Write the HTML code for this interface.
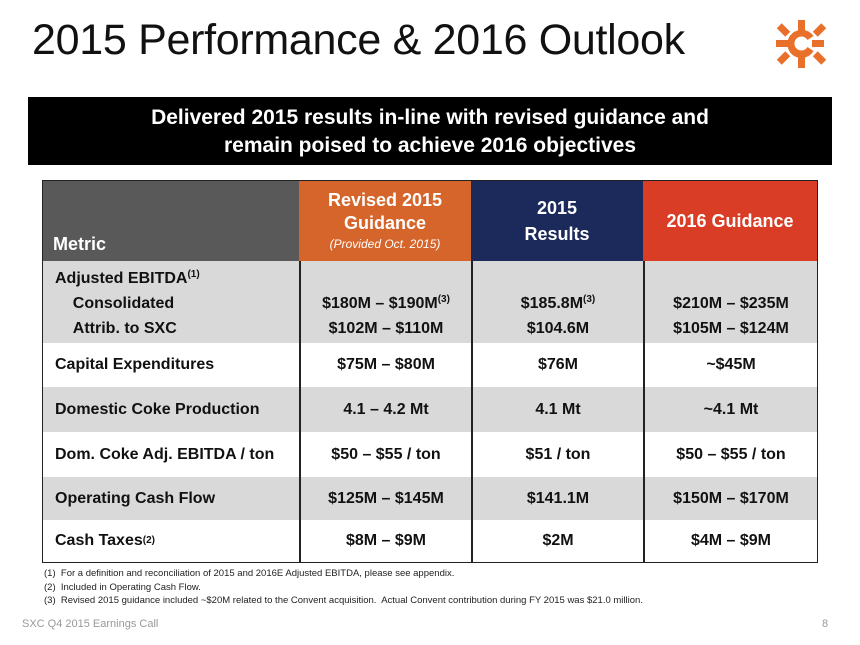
<!DOCTYPE html>
<html><head><meta charset="utf-8"><style>
*{margin:0;padding:0;box-sizing:border-box}
body{width:860px;height:645px;background:#fff;position:relative;overflow:hidden;font-family:"Liberation Sans",sans-serif;color:#111}
.a{position:absolute}
.cell{position:absolute;display:flex;align-items:center;justify-content:center;font-weight:bold;font-size:16px;text-align:center}
.lab{justify-content:flex-start;padding-left:12px}
.blk{display:block;padding-top:5px;line-height:25px}
sup{font-size:10px;vertical-align:6px;line-height:0}
</style></head><body>
<div class="a" style="left:32px;top:16px;font-size:43px;letter-spacing:-0.3px;color:#111">2015 Performance &amp; 2016 Outlook</div>
<svg class="a" style="left:772px;top:18px" width="60" height="52" viewBox="0 0 60 52">
<g fill="#e8702a">
<rect x="26" y="2" width="7" height="12"/><rect x="26" y="38" width="7" height="12"/>
<rect x="4" y="22" width="12" height="7"/>
<rect x="8" y="6" width="7" height="12" transform="rotate(-45 11.5 12)"/>
<rect x="8" y="34" width="7" height="12" transform="rotate(45 11.5 40)"/>
<rect x="44" y="6" width="7" height="12" transform="rotate(45 47.5 12)"/>
<rect x="44" y="34" width="7" height="12" transform="rotate(-45 47.5 40)"/>
<path d="M29.5 12a14 14 0 1 0 12 21l-6-4a7 7 0 1 1 0-7l6-4a14 14 0 0 0-12-6z"/>
<rect x="40" y="22" width="12" height="7"/>
</g></svg>
<div class="a" style="left:28px;top:97px;width:804px;height:68px;background:#000;color:#fff;font-weight:bold;font-size:21px;text-align:center;line-height:28px;padding-top:7px">Delivered 2015 results in-line with revised guidance and<br>remain poised to achieve 2016 objectives</div>

<div class="a" style="left:42px;top:180px;width:776px;height:383px;border:2px solid #222"></div>
<div class="cell" style="left:43px;top:181px;width:256px;height:80px;background:#595959;color:#fff;justify-content:flex-start;align-items:flex-end;padding:0 0 6px 10px;font-size:18px">Metric</div>
<div class="cell" style="left:299px;top:181px;width:172px;height:80px;background:#d5652a;color:#fff;flex-direction:column;font-size:18px;line-height:23px">Revised 2015<br>Guidance<span style="font-size:12px;font-style:italic;font-weight:normal;line-height:18px">(Provided Oct. 2015)</span></div>
<div class="cell" style="left:471px;top:181px;width:172px;height:80px;background:#1b2a5a;color:#fff;font-size:18px;line-height:26px">2015<br>Results</div>
<div class="cell" style="left:643px;top:181px;width:174px;height:80px;background:#d93d26;color:#fff;font-size:18px">2016 Guidance</div>

<div id="rows"></div>
<div class="a" style="left:44px;top:567px;font-size:9.5px;line-height:13.5px;color:#222">(1)&nbsp; For a definition and reconciliation of 2015 and 2016E Adjusted EBITDA, please see appendix.<br>(2)&nbsp; Included in Operating Cash Flow.<br>(3)&nbsp; Revised 2015 guidance included ~$20M related to the Convent acquisition.&nbsp; Actual Convent contribution during FY 2015 was $21.0 million.</div>
<div class="a" style="left:22px;top:618px;font-size:11px;color:#999">SXC Q4 2015 Earnings Call</div>
<div class="a" style="left:822px;top:618px;font-size:11px;color:#999">8</div>
<script>
const rowTops=[261,343,387,432,477,520,562];
const labels=['Adjusted EBITDA<sup>(1)</sup><br>&nbsp;&nbsp;&nbsp;&nbsp;Consolidated<br>&nbsp;&nbsp;&nbsp;&nbsp;Attrib. to SXC','Capital Expenditures','Domestic Coke Production','Dom. Coke Adj. EBITDA / ton','Operating Cash Flow','Cash Taxes<sup>(2)</sup>'];
const col1=['&nbsp;<br>$180M – $190M<sup>(3)</sup><br>$102M – $110M','$75M – $80M','4.1 – 4.2 Mt','$50 – $55 / ton','$125M – $145M','$8M – $9M'];
const col2=['&nbsp;<br>$185.8M<sup>(3)</sup><br>$104.6M','$76M','4.1 Mt','$51 / ton','$141.1M','$2M'];
const col3=['&nbsp;<br>$210M – $235M<br>$105M – $124M','~$45M','~4.1 Mt','$50 – $55 / ton','$150M – $170M','$4M – $9M'];
const cols=[[43,256],[299,172],[471,172],[643,174]];
const rows=document.getElementById('rows');
for(let r=0;r<6;r++){
 const top=rowTops[r],h=rowTops[r+1]-top,bg=r%2==0?'#d9d9d9':'#fff';
 const data=[labels[r],col1[r],col2[r],col3[r]];
 for(let c=0;c<4;c++){
  const d=document.createElement('div');
  d.className='cell'+(c==0?' lab':'')+(r==0?' blk':'');
  
  
  d.style.cssText=`left:${cols[c][0]}px;top:${top}px;width:${cols[c][1]}px;height:${h}px;background:${bg};`+(c==0?'text-align:left;':'')+(c>0?'border-left:2px solid #222;':'');
  d.innerHTML=data[c];
  rows.appendChild(d);
 }
}
</script>
</body></html>
